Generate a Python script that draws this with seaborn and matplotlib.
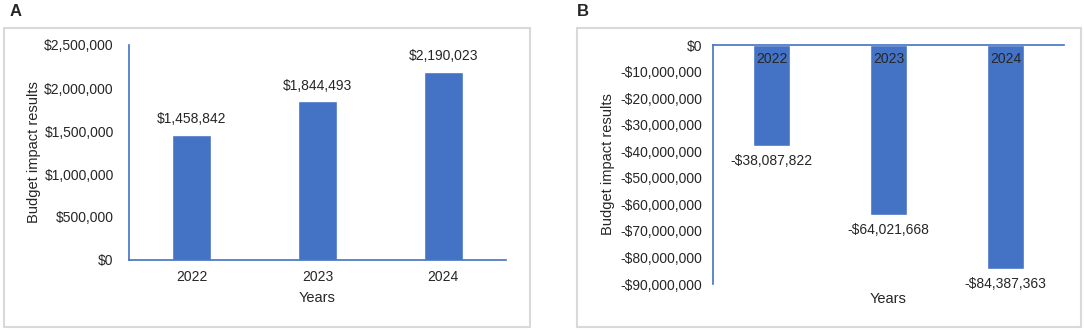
import numpy as np
import matplotlib.pyplot as plt
import matplotlib.ticker as mticker
from matplotlib.patches import Rectangle
import pandas as pd
import seaborn as sns

# data
years = ['2022', '2023', '2024']
impact_a = [1458842, 1844493, 2190023]
impact_b = [-38087822, -64021668, -84387363]

bar_color = '#4472C4'
axis_color = '#4472C4'
text_color = '#262626'

sns.set_style('white')
plt.rcParams['font.family'] = ['Liberation Sans', 'DejaVu Sans']
plt.rcParams['font.size'] = 10


def dollars(v, pos=None):
    if v < 0:
        return '-${:,.0f}'.format(-v)
    return '${:,.0f}'.format(v)


fig = plt.figure(figsize=(10.84, 3.31), dpi=100)
W, H = 1084, 331


def px_axes(x0, y0, x1, y1):
    # pixel box (top-left origin) -> figure axes
    return fig.add_axes([x0 / W, 1 - y1 / H, (x1 - x0) / W, (y1 - y0) / H])


# light grey frames round each panel
for (x0, y0, x1, y1) in [(4, 28, 530, 327), (577, 28, 1081, 327)]:
    fig.patches.append(Rectangle((x0 / W, 1 - y1 / H), (x1 - x0) / W, (y1 - y0) / H,
                                 transform=fig.transFigure, fill=False,
                                 edgecolor='#D9D9D9', linewidth=1.5))

# ---- panel A
df_a = pd.DataFrame({'year': years, 'impact': impact_a})
ax1 = px_axes(129, 45, 506, 260)
sns.barplot(data=df_a, x='year', y='impact', color=bar_color, saturation=1,
            width=0.31, ax=ax1)
ax1.set_ylim(0, 2500000)
ax1.set_xlim(-0.5, 2.5)
ax1.set_yticks(np.arange(0, 2500001, 500000))
ax1.yaxis.set_major_formatter(mticker.FuncFormatter(dollars))
ax1.bar_label(ax1.containers[0], labels=[dollars(v) for v in impact_a],
              padding=6, fontsize=10, color=text_color)
for s in ['top', 'right']:
    ax1.spines[s].set_visible(False)
for s in ['left', 'bottom']:
    ax1.spines[s].set_color(axis_color)
    ax1.spines[s].set_linewidth(1.2)
ax1.tick_params(axis='y', length=0, pad=11, labelsize=10, labelcolor=text_color)
ax1.tick_params(axis='x', length=0, pad=7, labelsize=10, labelcolor=text_color)
ax1.set_xlabel('Years', fontsize=10.5, color=text_color)
ax1.set_ylabel('Budget impact results', fontsize=10.5, color=text_color)
ax1.xaxis.set_label_coords(0.5, -0.145)
ax1.yaxis.set_label_coords(-0.233, 0.5)

# ---- panel B
df_b = pd.DataFrame({'year': years, 'impact': impact_b})
ax2 = px_axes(713, 45, 1064, 284)
sns.barplot(data=df_b, x='year', y='impact', color=bar_color, saturation=1,
            width=0.31, ax=ax2)
ax2.set_axisbelow(False)  # year labels sit on top of the bars
ax2.set_ylim(-90000000, 0)
ax2.set_xlim(-0.5, 2.5)
ax2.set_yticks(np.arange(-90000000, 1, 10000000))
ax2.yaxis.set_major_formatter(mticker.FuncFormatter(dollars))
ax2.bar_label(ax2.containers[0], labels=[dollars(v) for v in impact_b],
              padding=6, fontsize=10, color=text_color)
ax2.xaxis.tick_top()
ax2.xaxis.set_label_position('bottom')
for s in ['bottom', 'right']:
    ax2.spines[s].set_visible(False)
for s in ['left', 'top']:
    ax2.spines[s].set_color(axis_color)
    ax2.spines[s].set_linewidth(1.2)
ax2.tick_params(axis='y', length=0, pad=8, labelsize=10, labelcolor=text_color)
ax2.tick_params(axis='x', length=0, pad=-15, labelsize=10, labelcolor=text_color)
ax2.set_xlabel('Years', fontsize=10.5, color=text_color)
ax2.set_ylabel('Budget impact results', fontsize=10.5, color=text_color)
ax2.xaxis.set_label_coords(0.5, -0.033)
ax2.yaxis.set_label_coords(-0.279, 0.5)

fig.text(10 / W, 1 - 12 / H, 'A', fontsize=12, fontweight='bold', va='center', ha='left')
fig.text(577 / W, 1 - 12 / H, 'B', fontsize=12, fontweight='bold', va='center', ha='left')

fig.savefig('out.png', dpi=100)
